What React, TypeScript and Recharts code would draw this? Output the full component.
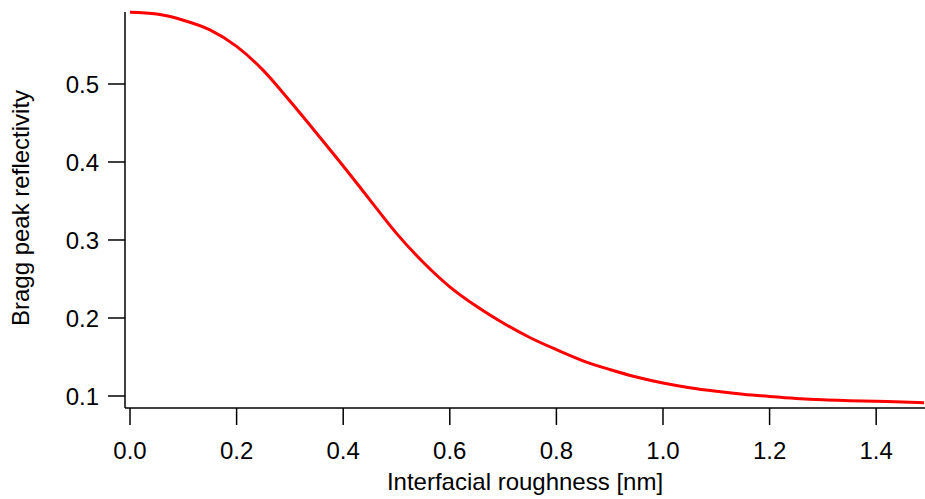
import { LineChart, Line, XAxis, YAxis, Label } from "recharts";

// interfacial roughness [nm]
const roughness = [
  0, 0.05, 0.1, 0.15, 0.2, 0.25, 0.3, 0.35, 0.4, 0.45, 0.5, 0.55, 0.6, 0.65,
  0.7, 0.75, 0.8, 0.85, 0.9, 0.95, 1.0, 1.05, 1.1, 1.15, 1.2, 1.25, 1.3, 1.35,
  1.4, 1.45, 1.49,
];

// Bragg peak reflectivity
const reflectivity = [
  0.592, 0.5896, 0.5818, 0.5694, 0.5482, 0.5174, 0.4781, 0.4369, 0.3949,
  0.3515, 0.3085, 0.2715, 0.24, 0.215, 0.1936, 0.175, 0.1594, 0.1451,
  0.134, 0.1244, 0.1167, 0.1106, 0.106, 0.1023, 0.0994, 0.0969, 0.0951,
  0.094, 0.0931, 0.0923, 0.0914,
];

const xTicks = [0, 0.2, 0.4, 0.6, 0.8, 1.0, 1.2, 1.4];
const yTicks = [0.1, 0.2, 0.3, 0.4, 0.5];

const data = roughness.map((r, i) => ({ r, refl: reflectivity[i] }));

const font = "'Liberation Sans', Arial, sans-serif";
const tickStyle = { fill: "#000", fontSize: 24, fontFamily: font };

export default function App() {
  return (
    <div style={{ position: "absolute", left: 0, top: 0, background: "#fff" }}>
      <LineChart
        width={925}
        height={499}
        data={data}
        margin={{ top: 12, right: 0, bottom: 0, left: 0 }}
      >
        <XAxis
          dataKey="r"
          type="number"
          domain={[-0.0094, 1.4916]}
          ticks={xTicks}
          tickFormatter={(v: number) => v.toFixed(1)}
          height={91}
          tick={tickStyle}
          tickSize={17}
          tickMargin={17}
          axisLine={{ stroke: "#000", strokeWidth: 1.5 }}
          tickLine={{ stroke: "#000", strokeWidth: 1.5 }}
        >
          <Label
            value="Interfacial roughness [nm]"
            position="insideBottom"
            offset={9}
            style={{ fill: "#000", fontSize: 24, fontFamily: font }}
          />
        </XAxis>
        <YAxis
          type="number"
          domain={[0.0846, 0.5923]}
          ticks={yTicks}
          tickFormatter={(v: number) => v.toFixed(1)}
          width={125}
          tick={tickStyle}
          tickSize={17}
          tickMargin={9}
          axisLine={{ stroke: "#000", strokeWidth: 1.5 }}
          tickLine={{ stroke: "#000", strokeWidth: 1.5 }}
        >
          <Label
            content={() => (
              <text
                x={29}
                y={208}
                transform="rotate(-90 29 208)"
                textAnchor="middle"
                fill="#000"
                fontSize={24}
                fontFamily={font}
              >
                Bragg peak reflectivity
              </text>
            )}
          />
        </YAxis>
        <Line
          dataKey="refl"
          type="monotone"
          stroke="#ff0000"
          strokeWidth={3}
          dot={false}
          isAnimationActive={false}
        />
      </LineChart>
    </div>
  );
}
